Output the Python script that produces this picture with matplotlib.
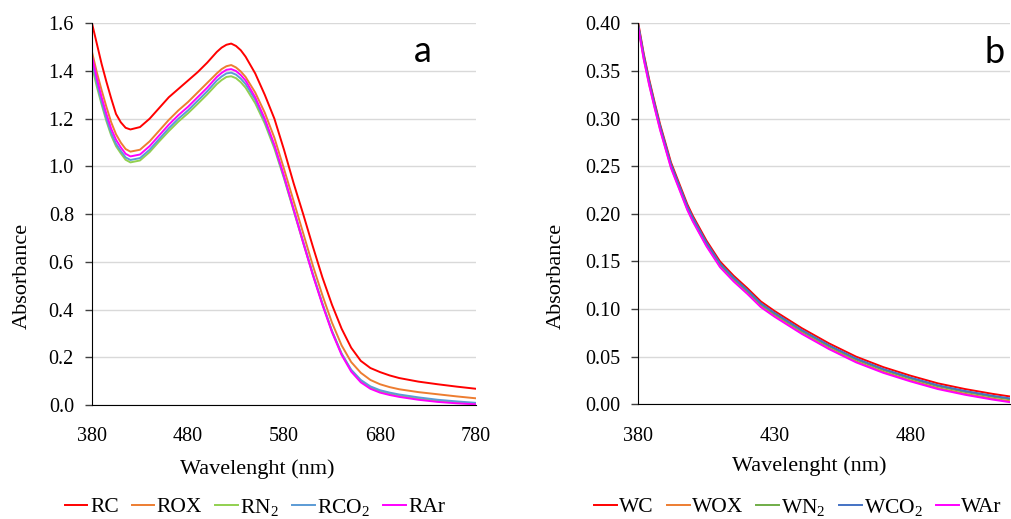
import numpy as np
import matplotlib
matplotlib.use('Agg')
import matplotlib.pyplot as plt

plt.rcParams['font.family'] = ['Liberation Serif', 'DejaVu Serif']
plt.rcParams['mathtext.fontset'] = 'custom'
plt.rcParams['mathtext.rm'] = 'Liberation Serif'
plt.rcParams['mathtext.it'] = 'Liberation Serif:italic'

# panel a: wavelength (nm) and absorbance
wl_a = [380, 385, 390, 395, 400, 405, 410, 415, 420, 430, 440, 450, 460, 470, 480, 490, 500,
        510, 515, 520, 525, 530, 535, 540, 550, 560, 570, 580, 590, 600, 610, 620, 630, 640,
        650, 660, 670, 680, 690, 700, 720, 740, 760, 780]
rc = [1.600, 1.515, 1.430, 1.355, 1.285, 1.220, 1.185, 1.162, 1.155, 1.165, 1.200, 1.245, 1.290,
      1.325, 1.360, 1.395, 1.435, 1.480, 1.498, 1.510, 1.515, 1.505, 1.487, 1.460, 1.390, 1.300,
      1.200, 1.070, 0.930, 0.800, 0.665, 0.535, 0.420, 0.320, 0.240, 0.185, 0.155, 0.138, 0.124,
      0.113, 0.098, 0.087, 0.077, 0.068]
rox = [1.480, 1.395, 1.320, 1.250, 1.185, 1.135, 1.100, 1.073, 1.062, 1.070, 1.105, 1.150, 1.195,
       1.235, 1.270, 1.310, 1.350, 1.390, 1.408, 1.420, 1.425, 1.415, 1.398, 1.375, 1.310, 1.225,
       1.120, 0.990, 0.855, 0.720, 0.585, 0.460, 0.345, 0.250, 0.180, 0.135, 0.105, 0.087, 0.075,
       0.066, 0.054, 0.045, 0.036, 0.028]
rn2 = [1.420, 1.335, 1.260, 1.190, 1.130, 1.085, 1.055, 1.028, 1.017, 1.025, 1.060, 1.105, 1.148,
       1.188, 1.223, 1.262, 1.302, 1.345, 1.362, 1.375, 1.378, 1.370, 1.353, 1.330, 1.265, 1.180,
       1.075, 0.950, 0.815, 0.680, 0.548, 0.425, 0.310, 0.215, 0.145, 0.100, 0.072, 0.056, 0.046,
       0.038, 0.026, 0.017, 0.010, 0.004]
rco2 = [1.440, 1.350, 1.270, 1.200, 1.140, 1.095, 1.065, 1.038, 1.027, 1.035, 1.070, 1.115, 1.160,
        1.200, 1.235, 1.275, 1.315, 1.360, 1.377, 1.390, 1.393, 1.385, 1.368, 1.345, 1.280, 1.190,
        1.085, 0.955, 0.820, 0.685, 0.550, 0.425, 0.310, 0.215, 0.148, 0.105, 0.078, 0.062, 0.052,
        0.044, 0.032, 0.022, 0.015, 0.009]
rar = [1.460, 1.370, 1.290, 1.220, 1.158, 1.112, 1.080, 1.053, 1.042, 1.050, 1.085, 1.130, 1.175,
       1.215, 1.250, 1.290, 1.330, 1.375, 1.392, 1.405, 1.408, 1.400, 1.383, 1.360, 1.290, 1.200,
       1.090, 0.960, 0.820, 0.680, 0.545, 0.420, 0.305, 0.210, 0.140, 0.095, 0.068, 0.052, 0.042,
       0.034, 0.022, 0.013, 0.007, 0.003]

# panel b
wl_b = [380, 382, 384, 386, 388, 390, 392, 395, 398, 400, 405, 410, 415, 420, 425, 430, 440, 450,
        460, 470, 480, 490, 500, 510, 517]
wc = [0.400, 0.368, 0.341, 0.317, 0.294, 0.274, 0.254, 0.232, 0.210, 0.198, 0.172, 0.150, 0.135,
      0.122, 0.108, 0.098, 0.080, 0.064, 0.050, 0.039, 0.030, 0.022, 0.016, 0.011, 0.008]
wox = [0.396, 0.363, 0.336, 0.312, 0.289, 0.269, 0.249, 0.227, 0.205, 0.193, 0.167, 0.145, 0.130,
       0.117, 0.103, 0.093, 0.075, 0.059, 0.045, 0.034, 0.025, 0.017, 0.011, 0.006, 0.003]
wn2 = [0.397, 0.365, 0.338, 0.314, 0.291, 0.271, 0.251, 0.229, 0.207, 0.195, 0.169, 0.147, 0.132,
       0.119, 0.105, 0.095, 0.077, 0.061, 0.047, 0.036, 0.027, 0.019, 0.013, 0.008, 0.005]
wco2 = [0.398, 0.366, 0.339, 0.315, 0.292, 0.272, 0.252, 0.230, 0.208, 0.196, 0.170, 0.148, 0.133,
        0.120, 0.106, 0.096, 0.078, 0.062, 0.048, 0.037, 0.028, 0.020, 0.014, 0.009, 0.006]
war = [0.395, 0.362, 0.335, 0.311, 0.288, 0.268, 0.248, 0.226, 0.204, 0.192, 0.166, 0.144, 0.129,
       0.116, 0.102, 0.092, 0.074, 0.058, 0.044, 0.033, 0.024, 0.016, 0.010, 0.005, 0.002]

labels_a = ['RC', 'ROX', 'RN$_2$', 'RCO$_2$', 'RAr']
labels_b = ['WC', 'WOX', 'WN$_2$', 'WCO$_2$', 'WAr']
colors_a = ['#FF0000', '#ED7D31', '#92D050', '#5B9BD5', '#FF00FF']
colors_b = ['#FF0000', '#ED7D31', '#70AD47', '#4472C4', '#FF00FF']

W, H = 1011, 519
fig = plt.figure(figsize=(W / 100, H / 100), dpi=100)

def px(x0, y0, x1, y1):
    return [x0 / W, 1 - y1 / H, (x1 - x0) / W, (y1 - y0) / H]

ax1 = fig.add_axes(px(92, 23.3, 476, 405))
ax2 = fig.add_axes(px(638.3, 23.3, 1010, 404.3))


def style(ax):
    for s in ['top', 'right']:
        ax.spines[s].set_visible(False)
    ax.spines['left'].set_color('#000000')
    ax.spines['bottom'].set_color('#000000')
    ax.grid(axis='y', color='#D9D9D9', lw=1)
    ax.set_axisbelow(True)
    ax.tick_params(axis='y', length=5, width=1, color='#404040', pad=8, labelsize=14.5)
    ax.tick_params(axis='x', length=0, pad=16, labelsize=14.5)


for y, c, l in zip([rc, rox, rn2, rco2, rar], colors_a, labels_a):
    ax1.plot(wl_a, y, color=c, lw=1.4, label=l)
ax1.set_xlim(380, 780)
ax1.set_ylim(0, 1.6)
ax1.set_xticks([380, 480, 580, 680, 780])
ax1.set_yticks(np.arange(0, 1.61, 0.2))
ax1.yaxis.set_major_formatter(matplotlib.ticker.FormatStrFormatter('%.1f'))
style(ax1)

for y, c, l in zip([wc, wox, wn2, wco2, war], colors_b, labels_b):
    ax2.plot(wl_b, y, color=c, lw=1.4, label=l)
ax2.set_xlim(380, 516.5)
ax2.set_ylim(0, 0.40)
ax2.set_xticks([380, 430, 480])
ax2.set_yticks(np.arange(0, 0.401, 0.05))
ax2.yaxis.set_major_formatter(matplotlib.ticker.FormatStrFormatter('%.2f'))
style(ax2)

# axis titles
fig.text(22 / W, 1 - 276 / H, 'Absorbance', rotation=90, ha='center', va='center', fontsize=16)
fig.text(556 / W, 1 - 276 / H, 'Absorbance', rotation=90, ha='center', va='center', fontsize=16)
fig.text(257 / W, 1 - 469 / H, 'Wavelenght (nm)', ha='center', va='center', fontsize=16)
fig.text(809 / W, 1 - 466 / H, 'Wavelenght (nm)', ha='center', va='center', fontsize=16)

# panel letters
fig.text(422.5 / W, 1 - 62 / H, 'a', ha='center', va='baseline', fontsize=26, family='Lato')
fig.text(994.7 / W, 1 - 63 / H, 'b', ha='center', va='baseline', fontsize=26, family='Lato')

leg_kw = dict(ncol=5, frameon=False, fontsize=15.5, handlelength=1.05, handletextpad=0.12,
              columnspacing=0.6, loc='center', borderpad=0, borderaxespad=0)
fig.legend(*ax1.get_legend_handles_labels(), bbox_to_anchor=(255 / W, 1 - 507 / H), **leg_kw)
fig.legend(*ax2.get_legend_handles_labels(), bbox_to_anchor=(798 / W, 1 - 507 / H), **leg_kw)

fig.savefig('out.png', dpi=100)
